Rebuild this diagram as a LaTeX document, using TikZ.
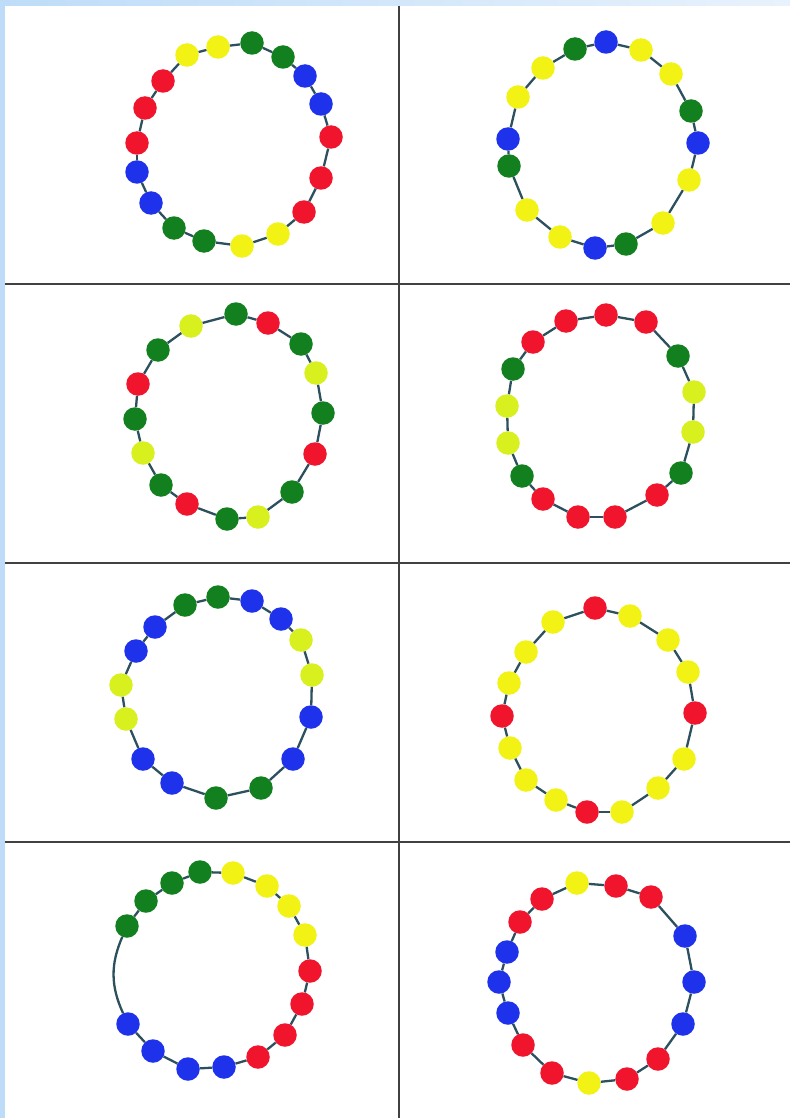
\documentclass[tikz,border=0pt]{standalone}
\usepackage{tikz}
\definecolor{bred}{RGB}{240,20,45}
\definecolor{bblue}{RGB}{30,50,235}
\definecolor{bgreen}{RGB}{18,128,30}
\definecolor{byellow}{RGB}{242,242,20}
\definecolor{blime}{RGB}{215,240,30}
\definecolor{bstring}{RGB}{45,80,95}
\definecolor{gridc}{RGB}{65,65,65}
\definecolor{stripa}{RGB}{190,220,248}
\definecolor{stripb}{RGB}{232,242,252}
\newcommand\beadnodes[2]{%
  \foreach \x/\y/\c [count=\i] in {#2} {\node[bead,fill=\c] (#1\i) at (\x,\y) {};}%
}
\newcommand\beadchain[2]{%
  \foreach \i [remember=\i as \j (initially #2)] in {1,...,#2} {\draw[beadline] (#1\j) -- (#1\i);}%
}
\tikzset{
  bead/.style={circle,draw=none,minimum size=23.5pt,inner sep=0pt},
  beadline/.style={draw=bstring,line width=2.3pt},
  gridline/.style={draw=gridc,line width=2pt}
}
\begin{document}
\begin{tikzpicture}[x=1pt,y=-1pt]
\useasboundingbox (0,0) rectangle (790,1118);
\fill[white] (0,0) rectangle (790,1118);
\fill[stripa] (0,0) rectangle (5,1118);
\shade[left color=stripa,right color=stripb] (0,0) rectangle (790,6);
% grid
\coordinate (vt) at (399,6);
\coordinate (vb) at (399,1118);
\coordinate (h1l) at (5,284);   \coordinate (h1r) at (790,284);
\coordinate (h2l) at (5,562.5); \coordinate (h2r) at (790,562.5);
\coordinate (h3l) at (5,841.5); \coordinate (h3r) at (790,841.5);
\draw[gridline] (vt) -- (vb);
\draw[gridline] (h1l) -- (h1r);
\draw[gridline] (h2l) -- (h2r);
\draw[gridline] (h3l) -- (h3r);
% cell 1
\beadnodes{pa}{187/55/byellow, 218/47/byellow, 252/43/bgreen, 283/57/bgreen, 305/76/bblue, 321/104/bblue, 331/137/bred, 321/178/bred, 304/212/bred, 278/234/byellow, 242/246/byellow, 204/241/bgreen, 174/228/bgreen, 151/203/bblue, 137/172/bblue, 137/143/bred, 145/108/bred, 163/81/bred}
\beadchain{pa}{18}
% cell 2
\beadnodes{pb}{575/49/bgreen, 606/42/bblue, 641/50/byellow, 671/74/byellow, 691/111/bgreen, 698/143/bblue, 689/180/byellow, 663/223/byellow, 626/244/bgreen, 595/248/bblue, 560/237/byellow, 527/210/byellow, 509/166/bgreen, 508/139/bblue, 518/97/byellow, 543/68/byellow}
\beadchain{pb}{16}
% cell 3
\beadnodes{pc}{236/314/bgreen, 268/323/bred, 301/344/bgreen, 316/373/blime, 323/413/bgreen, 315/454/bred, 292/492/bgreen, 258/517/blime, 227/519/bgreen, 187/504/bred, 161/485/bgreen, 143/453/blime, 135/419/bgreen, 138/384/bred, 158/350/bgreen, 191/326/blime}
\beadchain{pc}{16}
% cell 4
\beadnodes{pd}{606/315/bred, 646/322/bred, 678/356/bgreen, 694/392/blime, 693/432/blime, 681/473/bgreen, 657/495/bred, 615/517/bred, 578/517/bred, 543/499/bred, 522/476/bgreen, 508/443/blime, 507/406/blime, 513/369/bgreen, 533/342/bred, 566/321/bred}
\beadchain{pd}{16}
% cell 5
\beadnodes{pe}{218/597/bgreen, 252/601/bblue, 281/619/bblue, 301/640/blime, 312/675/blime, 311/717/bblue, 293/759/bblue, 261/788/bgreen, 216/798/bgreen, 172/783/bblue, 143/759/bblue, 126/719/blime, 121/685/blime, 136/651/bblue, 155/627/bblue, 185/605/bgreen}
\beadchain{pe}{16}
% cell 6
\beadnodes{pf}{595/608/bred, 630/616/byellow, 668/640/byellow, 688/672/byellow, 695/713/bred, 684/759/byellow, 658/788/byellow, 622/812/byellow, 587/812/bred, 556/800/byellow, 526/780/byellow, 510/748/byellow, 502/716/bred, 509/683/byellow, 526/652/byellow, 553/622/byellow}
\beadchain{pf}{16}
% cell 7
\beadnodes{pg}{200/872/bgreen, 233/873/byellow, 267/886/byellow, 289/906/byellow, 305/935/byellow, 310/971/bred, 302/1004/bred, 285/1035/bred, 258/1057/bred, 224/1067/bblue, 188/1069/bblue, 153/1051/bblue, 128/1024/bblue, 127/926/bgreen, 146/901/bgreen, 172/883/bgreen}
\foreach \j/\i in {1/2,2/3,3/4,4/5,5/6,6/7,7/8,8/9,9/10,10/11,11/12,12/13,14/15,15/16,16/1}
  {\draw[beadline] (pg\j) -- (pg\i);}
\draw[beadline] (pg13) to[bend left=24] (pg14);
% cell 8
\beadnodes{ph}{577/883/byellow, 616/886/bred, 651/897/bred, 685/936/bblue, 694/982/bblue, 683/1024/bblue, 658/1059/bred, 627/1079/bred, 589/1083/byellow, 552/1073/bred, 523/1045/bred, 508/1013/bblue, 499/982/bblue, 507/952/bblue, 520/922/bred, 542/899/bred}
\beadchain{ph}{16}
\end{tikzpicture}
\end{document}
